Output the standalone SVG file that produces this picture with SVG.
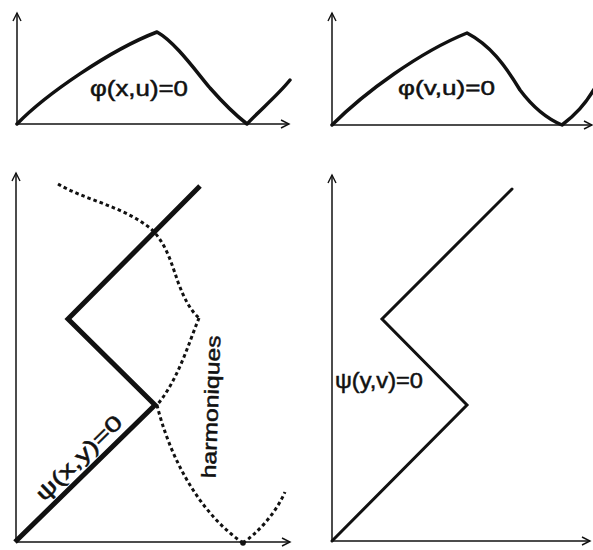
<svg xmlns="http://www.w3.org/2000/svg" width="593" height="550" viewBox="0 0 593 550">
<defs>
<marker id="arr" markerUnits="userSpaceOnUse" markerWidth="14" markerHeight="12" refX="9" refY="5" orient="auto">
<path d="M1,1 L9,5 L1,9" fill="none" stroke="#111" stroke-width="1.4"/>
</marker>
<style>
.axis{fill:none;stroke:#111;stroke-width:1.5;marker-end:url(#arr)}
.curve{fill:none;stroke:#111;stroke-width:3.5;stroke-linejoin:round;stroke-linecap:round}
.thick{fill:none;stroke:#111;stroke-width:5;stroke-linejoin:miter;stroke-linecap:butt}
.thin{fill:none;stroke:#111;stroke-width:3;stroke-linejoin:miter;stroke-linecap:round}
.dots{fill:none;stroke:#111;stroke-width:3;stroke-dasharray:3.5 3}
.lbl{font-family:"Liberation Sans","DejaVu Sans",sans-serif;fill:#111;stroke:#111;stroke-width:0.5}
</style>
</defs>
<rect width="593" height="550" fill="#fff"/>
<g id="axes">
<path class="axis" d="M17,124 L17,13"/>
<path class="axis" d="M17,124 L289,124"/>
<path class="axis" d="M332,125 L332,13"/>
<path class="axis" d="M332,125 L592,125"/>
<path class="axis" d="M16,542 L16,173"/>
<path class="axis" d="M16,542 L290,542"/>
<path class="axis" d="M332,541 L332,175"/>
<path class="axis" d="M332,541 L590,541"/>
</g>
<g id="phi-xu">
<path class="curve" d="M17,124 C45,95 110,50 157,32 C175,42 195,70 210,88 C225,105 238,117 247,124 C260,110 278,95 290,80"/>
<text class="lbl" x="90" y="96" font-size="22" textLength="98" lengthAdjust="spacingAndGlyphs">φ(x,u)=0</text>
</g>
<g id="phi-vu">
<path class="curve" d="M332,125 C365,92 420,52 467,33 C490,45 505,65 520,90 C535,110 550,120 562,125 C575,115 585,105 596,86"/>
<text class="lbl" x="398" y="95" font-size="21" textLength="97" lengthAdjust="spacingAndGlyphs">φ(v,u)=0</text>
</g>
<g id="psi-xy">
<path class="thick" d="M15,542 L155,405 L68,319 L200,186"/>
<text class="lbl" transform="translate(84,463) rotate(-44.4)" text-anchor="middle" font-size="21" textLength="112" lengthAdjust="spacingAndGlyphs">ψ(x,y)=0</text>
</g>
<g id="harmoniques">
<path class="dots" d="M58,184 C85,200 122,206 150,228 C166,242 172,265 178,282 C184,298 190,310 199,318"/>
<path class="dots" d="M199,318 C188,345 178,380 157,405"/>
<path class="dots" stroke-dasharray="3 3.5" stroke-width="3.4" d="M157,405 C168,450 195,510 243,543"/>
<path class="dots" stroke-dasharray="3 3.5" stroke-width="3.4" d="M243,543 C256,534 275,515 285,492"/>
<circle cx="243" cy="543" r="2.8" fill="#111"/>
<text class="lbl" transform="translate(218,407) rotate(-88)" text-anchor="middle" font-size="20" textLength="143" lengthAdjust="spacingAndGlyphs">harmoniques</text>
</g>
<g id="psi-yv">
<path class="thin" d="M332,541 L467,405 L382,319 L512,189"/>
<text class="lbl" x="335" y="388" font-size="22" textLength="88" lengthAdjust="spacingAndGlyphs">ψ(y,v)=0</text>
</g>
</svg>
